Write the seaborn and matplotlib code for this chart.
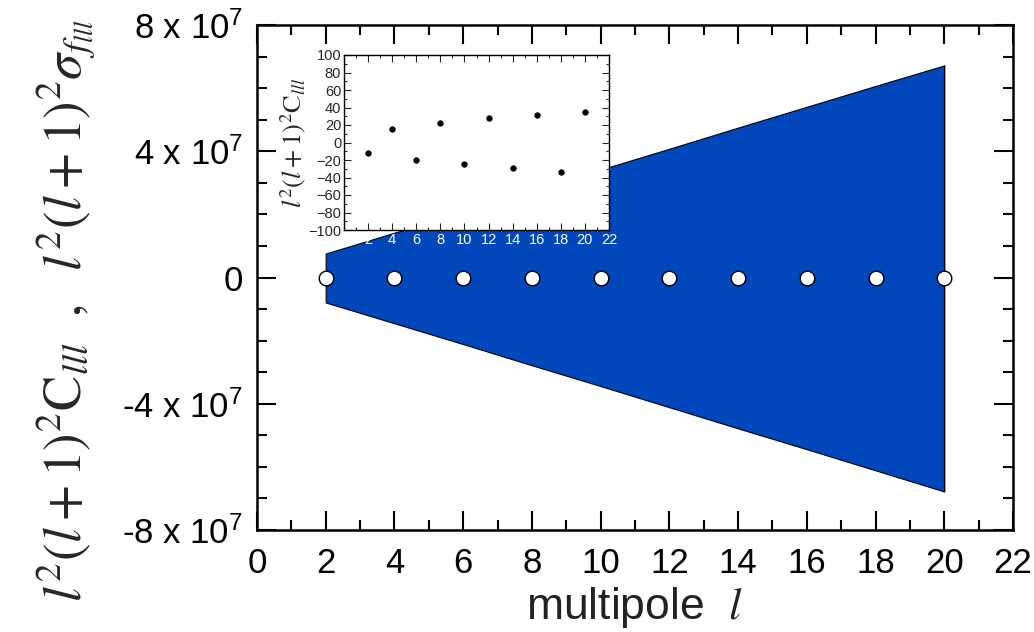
import matplotlib
matplotlib.use("Agg")
import matplotlib.pyplot as plt
import seaborn as sns
import pandas as pd
from matplotlib.ticker import MultipleLocator

# data
ell = [2, 4, 6, 8, 10, 12, 14, 16, 18, 20]
c_lll = [-12.5, 16, -20, 22.5, -25, 27.5, -29.5, 31.5, -33.5, 35]
# l^2(l+1)^2 sigma band, in units of 1e7
sigma_up = [0.76, 1.42, 2.09, 2.75, 3.42, 4.08, 4.75, 5.41, 6.07, 6.72]
sigma_lo = [-0.79, -1.45, -2.11, -2.78, -3.44, -4.11, -4.78, -5.44, -6.11, -6.78]

yticks = [-8e7, -4e7, 0, 4e7, 8e7]
ytick_labels = ['-8 x 10$^{7}$', '-4 x 10$^{7}$', '0', '4 x 10$^{7}$', '8 x 10$^{7}$']

df = pd.DataFrame({'l': ell, 'C': c_lll})

sns.set_theme(style='ticks')
plt.rcParams['font.family'] = ['Liberation Sans', 'DejaVu Sans']
plt.rcParams['mathtext.fontset'] = 'custom'
plt.rcParams['mathtext.rm'] = 'Liberation Sans'
plt.rcParams['mathtext.it'] = 'Liberation Sans:italic'
plt.rcParams['mathtext.default'] = 'it'
plt.rcParams['axes.edgecolor'] = 'black'

fig = plt.figure(figsize=(10.34, 6.32), dpi=100)
ax = fig.add_axes([0.2485, 0.1614, 0.7312, 0.799])

ax.fill_between(ell, [v * 1e7 for v in sigma_lo], [v * 1e7 for v in sigma_up],
                color='#0047BB', edgecolor='black', linewidth=0.8, zorder=1)
ax.vlines(ell[-1], sigma_lo[-1] * 1e7, sigma_up[-1] * 1e7, color='black', lw=0.8, zorder=2)
sns.scatterplot(data=df, x='l', y='C', ax=ax, s=110, color='white',
                edgecolor='black', linewidth=1.0, zorder=3, clip_on=False)

ax.set_xlim(0, 22)
ax.set_ylim(-8e7, 8e7)
ax.xaxis.set_major_locator(MultipleLocator(2))
ax.xaxis.set_minor_locator(MultipleLocator(1))
ax.set_yticks(yticks)
ax.set_yticklabels(ytick_labels)
ax.yaxis.set_minor_locator(MultipleLocator(1e7))
ax.tick_params(which='both', direction='in', top=True, right=True, width=1.5,
               labelsize=25, colors='black')
ax.tick_params(axis='x', pad=12)
ax.tick_params(axis='y', pad=10)
ax.tick_params(which='major', length=14)
ax.tick_params(which='minor', length=7)
for sp in ax.spines.values():
    sp.set_linewidth(1.8)
ax.set_xlabel('multipole  $l$', fontsize=32, color='#222222', labelpad=4,
              math_fontfamily='stix')
ax.set_ylabel('')

fig.text(0.064, 1 - 310 / 632,
         r'$l^2(l+1)^2\mathrm{C}_{lll}\ \ ,\ \ l^2(l+1)^2\sigma_{f_{lll}}$',
         rotation=90, ha='center', va='center', fontsize=38, math_fontfamily='stix')

# inset
ins = fig.add_axes([344 / 1034, 1 - 230 / 632, 265 / 1034, 175 / 632])
ins.set_facecolor('white')
sns.scatterplot(data=df, x='l', y='C', ax=ins, s=16, color='black',
                edgecolor='black', linewidth=0.5)
ins.set_xlim(0, 22)
ins.set_ylim(-100, 100)
ins.xaxis.set_major_locator(MultipleLocator(2))
ins.xaxis.set_minor_locator(MultipleLocator(1))
ins.yaxis.set_major_locator(MultipleLocator(20))
ins.yaxis.set_minor_locator(MultipleLocator(10))
ins.tick_params(which='both', direction='in', top=True, right=True, width=0.8,
                labelsize=10.5, pad=2)
ins.tick_params(which='major', length=5)
ins.tick_params(which='minor', length=2.5)
ins.tick_params(axis='x', labelcolor='white')
for sp in ins.spines.values():
    sp.set_linewidth(1.0)
ins.set_xlabel('')
ins.set_ylabel(r'$l^2(l+1)^2\mathrm{C}_{lll}$', fontsize=19, math_fontfamily='stix',
               labelpad=0)

fig.savefig('out.png', dpi=100)
